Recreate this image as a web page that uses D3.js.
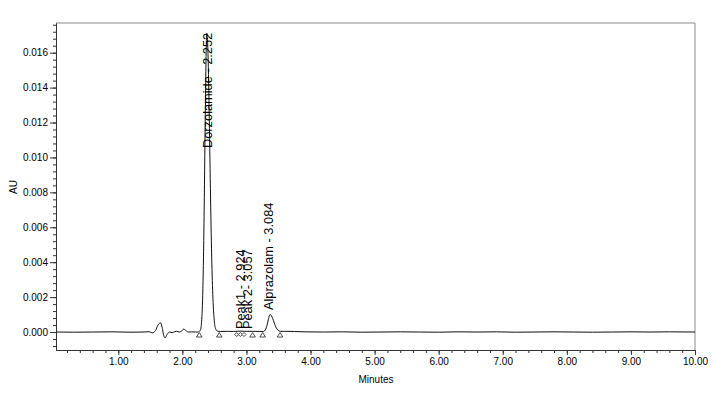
<!DOCTYPE html>
<html>
<head>
<meta charset="utf-8">
<script src="https://cdn.jsdelivr.net/npm/d3@7"></script>
<style>
  body { margin: 0; background: #fff; }
  text { font-family: Arial, "Liberation Sans", sans-serif; }
</style>
</head>
<body>
<div id="chart"></div>
<script>
const svgWidth = 713;
const svgHeight = 393;

// chromatogram trace (minutes, AU)
var times = [0.03, 0.3, 0.6, 0.9, 1.2, 1.4, 1.48, 1.53, 1.58, 1.62, 1.66, 1.69, 1.71, 1.73, 1.76, 1.8, 1.84, 1.88, 1.91, 1.95, 1.99, 2.02, 2.05, 2.09, 2.14, 2.2, 2.24, 2.28, 2.30, 2.32, 2.33, 2.34, 2.35, 2.36, 2.37, 2.38, 2.39, 2.40, 2.41, 2.42, 2.43, 2.44, 2.45, 2.46, 2.48, 2.50, 2.52, 2.55, 2.6, 2.7, 2.8, 2.9, 3.0, 3.1, 3.2, 3.26, 3.28, 3.30, 3.32, 3.34, 3.36, 3.37, 3.38, 3.40, 3.42, 3.44, 3.46, 3.49, 3.53, 3.6, 3.75, 3.9, 4.2, 4.5, 4.8, 5.1, 5.4, 5.7, 6.0, 6.3, 6.6, 6.9, 7.2, 7.5, 7.8, 8.1, 8.4, 8.7, 9.0, 9.3, 9.6, 10.0];
var au = [0.00000, -0.00001, 0.00000, 0.00001, -0.00001, 0.00000, 0.00002, -0.00005, 0.00008, 0.00040, 0.00053, 0.00015, -0.00022, -0.00033, -0.00015, 0.00000, -0.00004, 0.00002, 0.00004, 0.00000, 0.00006, 0.00017, 0.00010, 0.00000, 0.00001, 0.00000, 0.00000, 0.00010, 0.00059, 0.00247, 0.00434, 0.00694, 0.01007, 0.01323, 0.01577, 0.01712, 0.01692, 0.01595, 0.01431, 0.01222, 0.00993, 0.00768, 0.00566, 0.00396, 0.00168, 0.00058, 0.00017, 0.00005, 0.00003, 0.00004, 0.00003, 0.00005, 0.00004, 0.00004, 0.00003, 0.00003, 0.00006, 0.00016, 0.00037, 0.00069, 0.00096, 0.00100, 0.00098, 0.00086, 0.00067, 0.00046, 0.00028, 0.00011, 0.00004, 0.00004, 0.00003, 0.00001, 0.00000, 0.00001, -0.00001, 0.00000, 0.00001, 0.00000, -0.00001, 0.00001, 0.00000, 0.00001, -0.00001, 0.00000, 0.00001, 0.00000, -0.00001, 0.00000, 0.00001, 0.00000, 0.00001, 0.00000];

// peak labels: text, anchor time, anchor AU
var peakNames = ["Dorzolamide - 2.252", "Peak1 - 2.924", "Peak 2- 3.057", "Alprazolam - 3.084"];
var labelTimes = [2.47, 2.97, 3.085, 3.42];
var labelAU = [0.01054, 0.00017, 0.00017, 0.00126];

// integration marks on the baseline
var triangleTimes = [2.264, 2.576, 3.095, 3.253, 3.524];
var diamondTimes = [2.848, 2.905, 2.962];

var yTicks = [0, 0.002, 0.004, 0.006, 0.008, 0.010, 0.012, 0.014, 0.016];
var xTicks = [1, 2, 3, 4, 5, 6, 7, 8, 9, 10];

var trace = times.map((t, i) => ({t: t, v: au[i]}));

var svg = d3.select("#chart")
  .append("svg")
  .attr("width", svgWidth)
  .attr("height", svgHeight);

var xScale = d3.scaleLinear().domain([0.028, 10]).range([56, 695]);
var yScale = d3.scaleLinear().domain([-0.00103, 0.0177]).range([350, 23]);

// frame top / right
svg.append("path")
  .attr("d", `M56,23H695V350`)
  .attr("fill", "none")
  .attr("stroke", "#8a8a8a")
  .attr("stroke-width", 1);

// y axis
var yMinor = d3.range(-0.0008, 0.01761, 0.0004);
svg.append("g")
  .attr("transform", "translate(56,0)")
  .call(d3.axisLeft(yScale).tickValues(yMinor).tickSize(3).tickSizeOuter(0).tickFormat(""))
  .call(g => g.selectAll("line,path").attr("stroke", "#333"));
svg.append("g")
  .attr("transform", "translate(56,0)")
  .call(d3.axisLeft(yScale).tickValues(yTicks).tickSize(6).tickSizeOuter(0).tickFormat(d3.format(".3f")))
  .call(g => g.selectAll("line,path").attr("stroke", "#333"))
  .call(g => g.selectAll("text").attr("font-size", 10).attr("font-family", "Arial, 'Liberation Sans', sans-serif").attr("fill", "#000").attr("x", -8));

// x axis
var xMinor = d3.range(0.2, 10.01, 0.2);
svg.append("g")
  .attr("transform", "translate(0,350)")
  .call(d3.axisBottom(xScale).tickValues(xMinor).tickSize(3).tickSizeOuter(0).tickFormat(""))
  .call(g => g.selectAll("line,path").attr("stroke", "#333"));
svg.append("g")
  .attr("transform", "translate(0,350)")
  .call(d3.axisBottom(xScale).tickValues(xTicks).tickSize(5).tickSizeOuter(0).tickFormat(d3.format(".2f")))
  .call(g => g.selectAll("line,path").attr("stroke", "#333"))
  .call(g => g.selectAll("text").attr("font-size", 10).attr("font-family", "Arial, 'Liberation Sans', sans-serif").attr("fill", "#000"));

// axis titles
svg.append("text")
  .attr("x", 376)
  .attr("y", 383)
  .attr("text-anchor", "middle")
  .attr("font-size", 10)
  .text("Minutes");
svg.append("text")
  .attr("transform", "translate(17,187) rotate(-90)")
  .attr("text-anchor", "middle")
  .attr("font-size", 10)
  .text("AU");

// trace
var line = d3.line()
  .x(d => xScale(d.t))
  .y(d => yScale(d.v))
  .curve(d3.curveMonotoneX);
svg.append("path")
  .datum(trace)
  .attr("d", line)
  .attr("fill", "none")
  .attr("stroke", "#111")
  .attr("stroke-width", 1);

// baseline marks
svg.append("g")
  .selectAll("path")
  .data(triangleTimes)
  .enter()
  .append("path")
  .attr("d", d => `M${xScale(d)},${yScale(0) + 0.5}l2.8,4.5h-5.6z`)
  .attr("fill", "#fff")
  .attr("stroke", "#222")
  .attr("stroke-width", 0.8);
svg.append("g")
  .selectAll("path")
  .data(diamondTimes)
  .enter()
  .append("path")
  .attr("d", d => `M${xScale(d)},${yScale(0) + 0.5}l2,2l-2,2l-2,-2z`)
  .attr("fill", "#fff")
  .attr("stroke", "#222")
  .attr("stroke-width", 0.8);

// peak labels
svg.append("g")
  .selectAll("text")
  .data(peakNames)
  .enter()
  .append("text")
  .attr("transform", (d, i) => `translate(${xScale(labelTimes[i])},${yScale(labelAU[i])}) rotate(-90)`)
  .attr("font-size", 12.8)
  .attr("fill", "#000")
  .text(d => d);
</script>
</body>
</html>
